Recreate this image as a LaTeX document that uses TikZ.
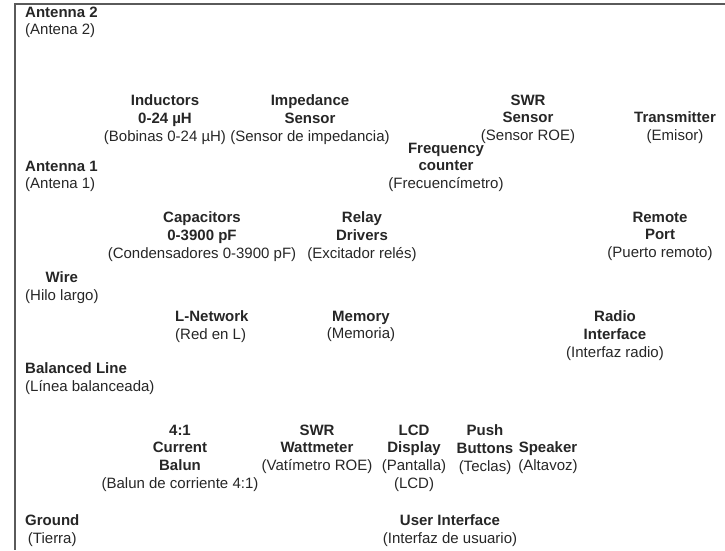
\documentclass[tikz,border=0pt]{standalone}
\usepackage{fontspec}
\setmainfont{Liberation Sans}
\usepackage{tikz}
\usepackage{xcolor}

\definecolor{inkgray}{RGB}{38,38,38}
\definecolor{framegray}{RGB}{90,90,90}

\begin{document}
\begin{tikzpicture}[x=1pt,y=1pt,yscale=-1,xscale=1,
  lbl/.style={inner sep=0pt,align=center,anchor=north,text=inkgray,
    font=\fontsize{15}{17.8}\selectfont},
  lblw/.style={lbl,anchor=north west}]
\useasboundingbox (0,0) rectangle (725,550);

%Frame [top and left edge only]
\draw [framegray,line width=1.1pt] (725,4) -- (15,4) -- (15,550) ;

% Text Node
\node [lblw,align=left] (ant2) at (25,6.5) {\textbf{Antenna 2}\\(Antena 2)};
% Text Node
\node [lbl] (ind) at (165,94.5) {\textbf{Inductors}\\\textbf{0-24 µH}\\(Bobinas 0-24 µH)};
% Text Node
\node [lbl] (imp) at (310,94.5) {\textbf{Impedance}\\\textbf{Sensor}\\(Sensor de impedancia)};
% Text Node
\node [lbl] (swrs) at (528,94.5) {\textbf{SWR}\\\textbf{Sensor}\\(Sensor ROE)};
% Text Node
\node [lbl] (tx) at (675,111.5) {\textbf{Transmitter}\\(Emisor)};
% Text Node
\node [lbl] (freq) at (446,142.5) {\textbf{Frequency}\\\textbf{counter}\\(Frecuencímetro)};
% Text Node
\node [lblw,align=left] (ant1) at (25,160.5) {\textbf{Antenna 1}\\(Antena 1)};
% Text Node
\node [lbl] (cap) at (202,211.5) {\textbf{Capacitors}\\\textbf{0-3900 pF}\\(Condensadores 0-3900 pF)};
% Text Node
\node [lbl] (relay) at (362,211.5) {\textbf{Relay}\\\textbf{Drivers}\\(Excitador relés)};
% Text Node
\node [lbl] (remote) at (660,211.5) {\textbf{Remote}\\\textbf{Port}\\(Puerto remoto)};
% Text Node
\node [lblw] (wire) at (25,271.5) {\textbf{Wire}\\(Hilo largo)};
% Text Node
\node [lblw,align=left] (lnet) at (175,310.5) {\textbf{L-Network}\\(Red en L)};
% Text Node
\node [lbl] (mem) at (361,310.5) {\textbf{Memory}\\(Memoria)};
% Text Node
\node [lbl] (radio) at (615,310.5) {\textbf{Radio}\\\textbf{Interface}\\(Interfaz radio)};
% Text Node
\node [lblw,align=left] (bal) at (25,362.5) {\textbf{Balanced Line}\\(Línea balanceada)};
% Text Node
\node [lbl] (balun) at (180,424.5) {\textbf{4:1}\\\textbf{Current}\\\textbf{Balun}\\(Balun de corriente 4:1)};
% Text Node
\node [lbl] (swrw) at (317,424.5) {\textbf{SWR}\\\textbf{Wattmeter}\\(Vatímetro ROE)};
% Text Node
\node [lbl] (lcd) at (414,424.5) {\textbf{LCD}\\\textbf{Display}\\(Pantalla)\\(LCD)};
% Text Node
\node [lbl] (push) at (485,424.5) {\textbf{Push}\\\textbf{Buttons}\\(Teclas)};
% Text Node
\node [lbl] (spk) at (548,441.5) {\textbf{Speaker}\\(Altavoz)};
% Text Node
\node [lblw] (gnd) at (25,514.5) {\textbf{Ground}\\(Tierra)};
% Text Node
\node [lbl] (ui) at (450,514.5) {\textbf{User Interface}\\(Interfaz de usuario)};

\end{tikzpicture}
\end{document}
